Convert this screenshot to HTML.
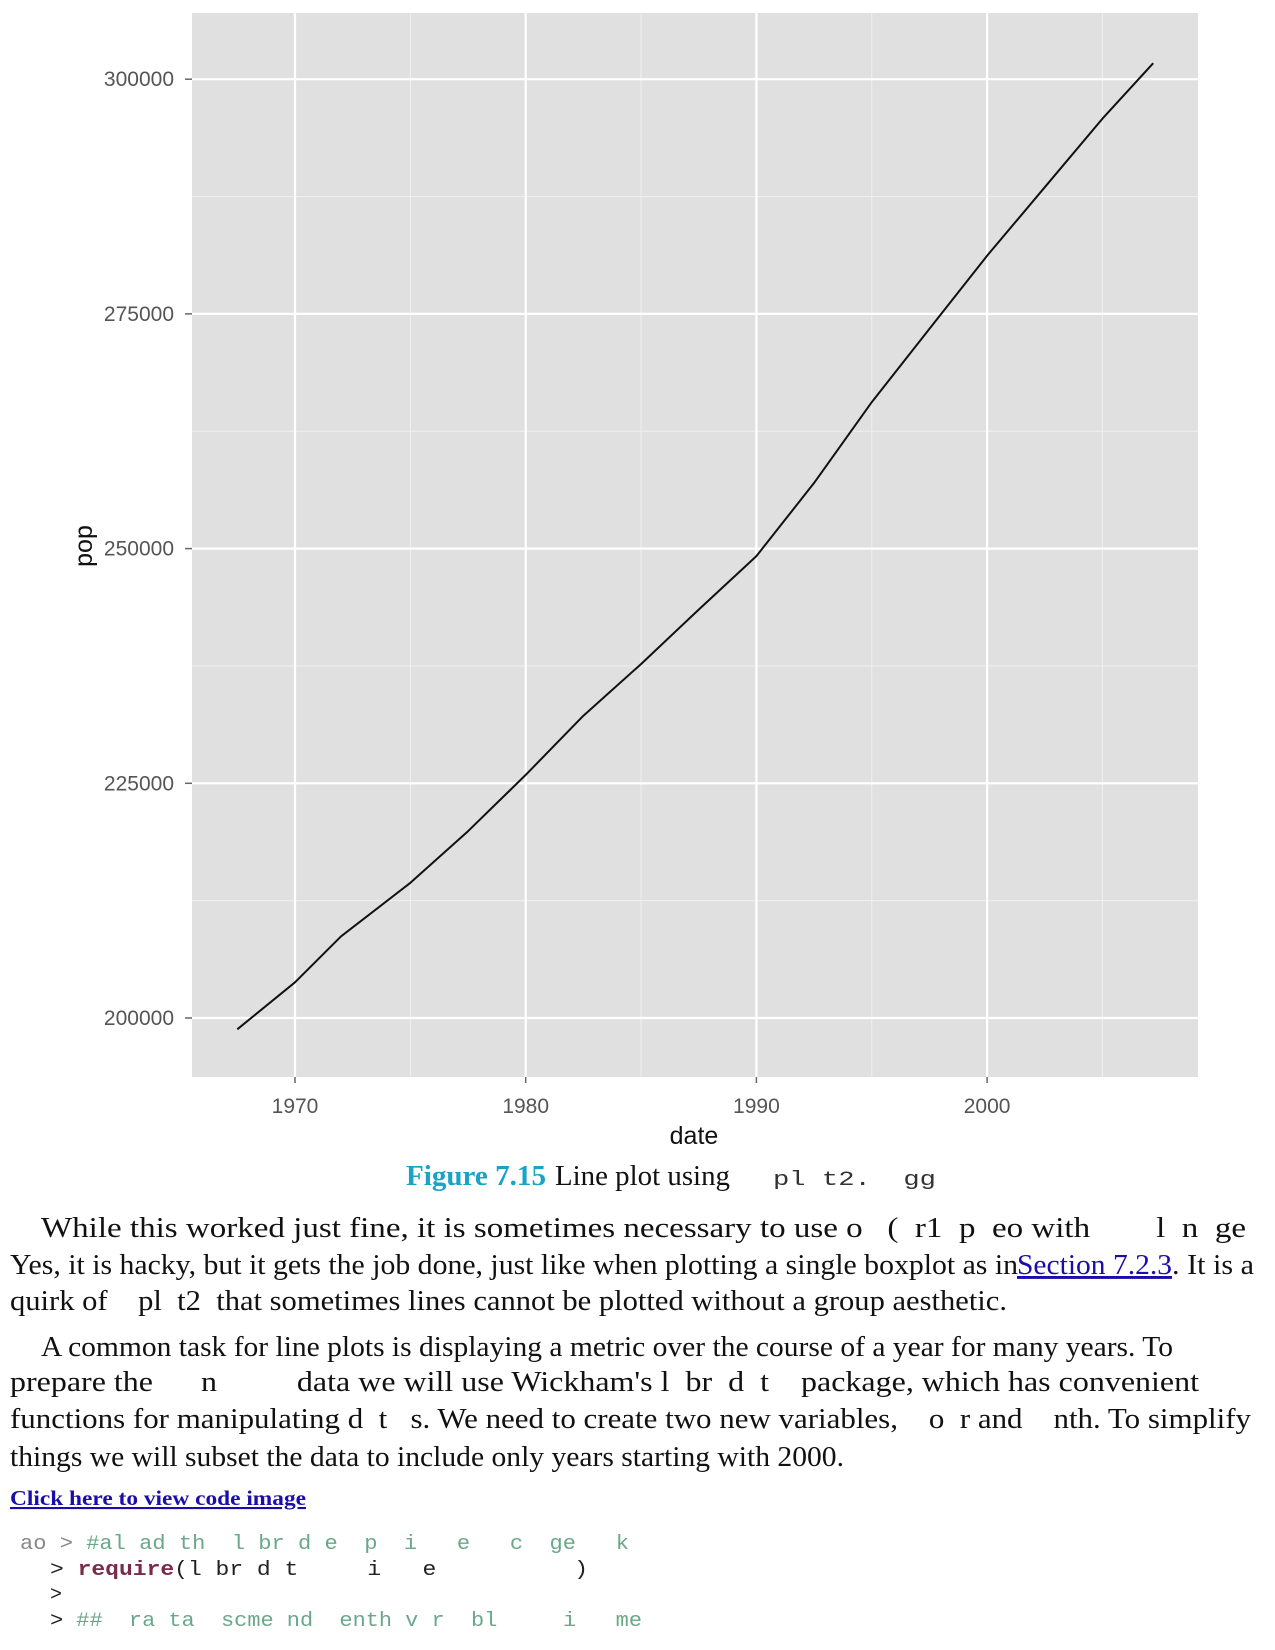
<!DOCTYPE html>
<html><head><meta charset="utf-8"><style>
html,body{margin:0;padding:0;background:#fff;width:1275px;height:1650px;overflow:hidden}
svg{display:block}
.tick{font-family:"Liberation Sans",sans-serif;font-size:21px;fill:#555}
.body{font-family:"Liberation Serif",serif;font-size:29px;fill:#111}
.mono{font-family:"Liberation Mono",monospace;font-size:20px}
</style></head><body>
<svg id="chart" width="1275" height="1650" viewBox="0 0 1275 1650" xmlns="http://www.w3.org/2000/svg">
<rect x="192" y="13" width="1006" height="1064" fill="#e0e0e0"/>
<g id="grid"></g>
<g id="axes"></g>
<polyline id="series" fill="none" stroke="#111" stroke-width="2" stroke-linejoin="round"/>
<text transform="translate(92,546) rotate(-90)" text-anchor="middle" font-family="Liberation Sans,sans-serif" font-size="25" fill="#111">pop</text>
<text x="694" y="1144" text-anchor="middle" font-family="Liberation Sans,sans-serif" font-size="25" fill="#111">date</text>

<g>
<text x="406" y="1185" font-family="Liberation Serif,serif" font-size="29" font-weight="bold" fill="#1ba3c6" textLength="140" lengthAdjust="spacingAndGlyphs">Figure 7.15</text>
<text class="body" x="555" y="1185" textLength="175" lengthAdjust="spacingAndGlyphs">Line plot using</text>
<text class="mono" x="773" y="1185" font-size="26" fill="#333" xml:space="preserve" textLength="163" lengthAdjust="spacingAndGlyphs">pl t2.  gg</text>
</g>
<g>
<text class="body" x="41" y="1237" xml:space="preserve" textLength="1205" lengthAdjust="spacingAndGlyphs">While this worked just fine, it is sometimes necessary to use o   (  r1  p  eo with        l  n  ge</text>
<text class="body" x="10" y="1274" textLength="1008" lengthAdjust="spacingAndGlyphs">Yes, it is hacky, but it gets the job done, just like when plotting a single boxplot as in</text>
<text x="1017" y="1274" font-family="Liberation Serif,serif" font-size="29" fill="#1a0dab" text-decoration="underline" textLength="155" lengthAdjust="spacingAndGlyphs">Section 7.2.3</text>
<text class="body" x="1172" y="1274" textLength="82" lengthAdjust="spacingAndGlyphs">. It is a</text>
<text class="body" x="10" y="1310" xml:space="preserve" textLength="997" lengthAdjust="spacingAndGlyphs">quirk of    pl  t2  that sometimes lines cannot be plotted without a group aesthetic.</text>
<text class="body" x="41" y="1356" textLength="1132" lengthAdjust="spacingAndGlyphs">A common task for line plots is displaying a metric over the course of a year for many years. To</text>
<text class="body" x="10" y="1391" xml:space="preserve" textLength="1189" lengthAdjust="spacingAndGlyphs">prepare the      n          data we will use Wickham's l  br  d  t    package, which has convenient</text>
<text class="body" x="10" y="1428" xml:space="preserve" textLength="1241" lengthAdjust="spacingAndGlyphs">functions for manipulating d  t   s. We need to create two new variables,    o  r and    nth. To simplify</text>
<text class="body" x="10" y="1466" textLength="834" lengthAdjust="spacingAndGlyphs">things we will subset the data to include only years starting with 2000.</text>
</g>
<text x="10" y="1505" font-family="Liberation Serif,serif" font-size="21" font-weight="bold" fill="#1a0dab" text-decoration="underline" textLength="296" lengthAdjust="spacingAndGlyphs">Click here to view code image</text>
<g>
<text class="mono" x="20" y="1549" fill="#6aa88a" xml:space="preserve" textLength="609" lengthAdjust="spacingAndGlyphs"><tspan fill="#888">ao &gt; </tspan>#al ad th  l br d e  p  i   e   c  ge   k</text>
<text class="mono" x="50" y="1575" fill="#222" xml:space="preserve" textLength="538" lengthAdjust="spacingAndGlyphs">&gt; <tspan fill="#7a2a4a" font-weight="bold">require</tspan>(l br d t     i   e          )</text>
<text class="mono" x="50" y="1600" fill="#222">&gt;</text>
<text class="mono" x="50" y="1626" fill="#6aa88a" xml:space="preserve" textLength="592" lengthAdjust="spacingAndGlyphs"><tspan fill="#222">&gt; </tspan>##  ra ta  scme nd  enth v r  bl     i   me</text>
</g>
</svg>
<script>
const years = [1967.5, 1970, 1972, 1975, 1977.5, 1980, 1982.5, 1985, 1987.5, 1990, 1992.5, 1995, 1997.5, 2000, 2002.5, 2005, 2007.2];
const pops = [198800, 203800, 208700, 214400, 219900, 225900, 232200, 237700, 243500, 249200, 257000, 265600, 273400, 281200, 288500, 295800, 301700];
const xTicks = [1970, 1980, 1990, 2000];
const yTicks = [200000, 225000, 250000, 275000, 300000];
const yTickLabels = ["200000", "225000", "250000", "275000", "300000"];

const X0 = 192, X1 = 1198, Y0 = 13, Y1 = 1077;
function xs(v){ return 295 + (v - 1970) * 23.07; }
function ys(v){ return 1018 - (v - 200000) / 25000 * 234.7; }
const NS = "http://www.w3.org/2000/svg";
const grid = document.getElementById('grid');
const axes = document.getElementById('axes');
function mk(tag, attrs, parent){
  const e = document.createElementNS(NS, tag);
  for (const k in attrs) e.setAttribute(k, attrs[k]);
  parent.appendChild(e); return e;
}
for (let i = 0; i < xTicks.length + 1; i++) {
  const v = xTicks[0] - 5 + i * 10;
  const x = xs(v);
  if (x > X0 && x < X1) {
    const l = mk('line', {x1:x, x2:x, y1:Y0, y2:Y1, stroke:'#f0f0f0', 'stroke-width':1}, grid);
    
    
  }
}
for (let i = 0; i < yTicks.length + 1; i++) {
  const v = yTicks[0] - 12500 + i * 25000;
  const y = ys(v);
  if (y > Y0 && y < Y1) {
    const l = mk('line', {x1:X0, x2:X1, y1:y, y2:y, stroke:'#f0f0f0', 'stroke-width':1}, grid);
    
    
  }
}
xTicks.forEach(function(v){
  const x = xs(v);
  const g = mk('line', {x1:x, x2:x, y1:Y0, y2:Y1, stroke:'#fff', 'stroke-width':2.2}, grid);
  
  
  const t = mk('line', {x1:x, x2:x, y1:Y1, y2:Y1+6, stroke:'#666', 'stroke-width':1.5}, axes);
  
  
  const lb = mk('text', {x:x, y:1113, 'text-anchor':'middle', class:'tick'}, axes);
  lb.textContent = String(v);
  
  
});
yTicks.forEach(function(v, i){
  const y = ys(v);
  const g = mk('line', {x1:X0, x2:X1, y1:y, y2:y, stroke:'#fff', 'stroke-width':2.2}, grid);
  
  
  const t = mk('line', {x1:X0-7, x2:X0, y1:y, y2:y, stroke:'#666', 'stroke-width':1.5}, axes);
  
  
  const lb = mk('text', {x:X0-18, y:y+7, 'text-anchor':'end', class:'tick'}, axes);
  lb.textContent = yTickLabels[i];
  
  
});
document.getElementById('series').setAttribute('points',
  years.map(function(yr, i){ return xs(yr).toFixed(1) + ',' + ys(pops[i]).toFixed(1); }).join(' '));
</script>
</body></html>
